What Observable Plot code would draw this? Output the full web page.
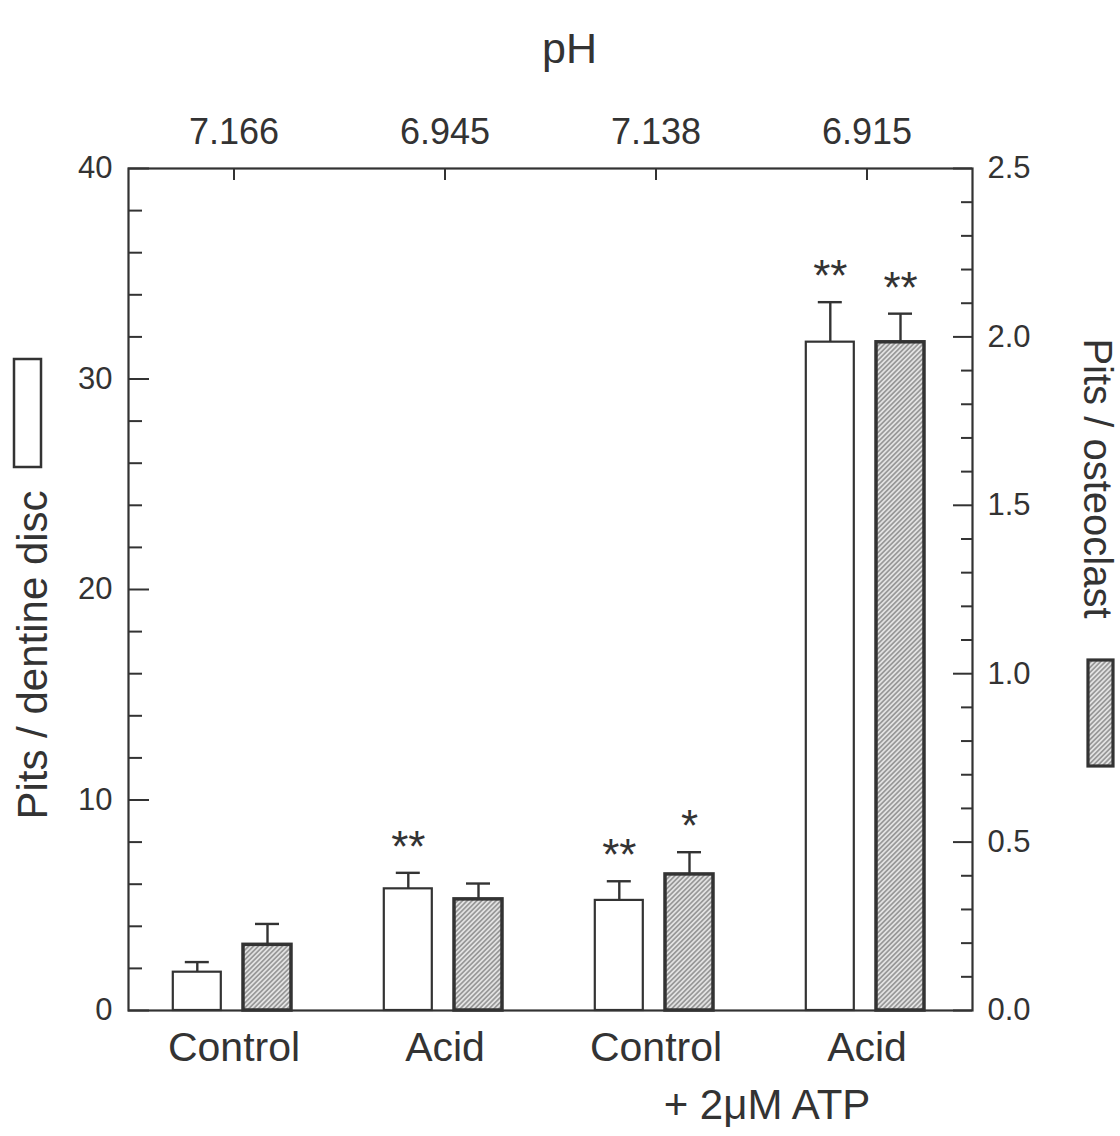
<!DOCTYPE html>
<html><head><meta charset="utf-8">
<script src="https://cdn.jsdelivr.net/npm/d3@7"></script>
<script src="https://cdn.jsdelivr.net/npm/@observablehq/plot@0.6"></script>
<style>
body{margin:0;background:#fff;}
#chart svg{display:block;}
</style></head><body><div id="chart"></div>
<script>
// ---- data ----
const groups = ["Control", "Acid", "Control + 2μM ATP", "Acid + 2μM ATP"];
const groupLabels = ["Control", "Acid", "Control", "Acid"];
const pHValues = ["7.166", "6.945", "7.138", "6.915"];
const pitsPerDisc = [1.82, 5.78, 5.23, 31.75];
const pitsPerDiscSEM = [0.48, 0.76, 0.91, 1.90];
const pitsPerOsteoclast = [0.195, 0.33, 0.404, 1.984];
const pitsPerOsteoclastSEM = [0.062, 0.047, 0.066, 0.085];
const sigDisc = ["", "**", "**", "**"];
const sigOsteoclast = ["", "", "*", "**"];
const leftMajor = [0, 10, 20, 30, 40];
const leftMinor = [2, 4, 6, 8, 12, 14, 16, 18, 22, 24, 26, 28, 32, 34, 36, 38];
const rightMajor = [0, 0.5, 1.0, 1.5, 2.0, 2.5];
const rightMinor = [0.1, 0.2, 0.3, 0.4, 0.6, 0.7, 0.8, 0.9, 1.1, 1.2, 1.3, 1.4, 1.6, 1.7, 1.8, 1.9, 2.1, 2.2, 2.3, 2.4];
const titleTop = "pH";
const titleLeft = "Pits / dentine disc";
const titleRight = "Pits / osteoclast";
const noteATP = "+ 2μM ATP";

// ---- layout ----
const W = 1120, H = 1136, mL = 128, mR = 148, mT = 168, mB = 126;
const plotW = W - mL - mR, plotH = H - mT - mB;
const band = plotW / groups.length;
const k = 40 / 2.5; // left units per right unit
const ink = "#333";

const white = groups.map((g, i) => ({group: g, value: pitsPerDisc[i], top: pitsPerDisc[i] + pitsPerDiscSEM[i], sig: sigDisc[i]}));
const hatched = groups.map((g, i) => ({group: g, value: pitsPerOsteoclast[i] * k, top: (pitsPerOsteoclast[i] + pitsPerOsteoclastSEM[i]) * k, sig: sigOsteoclast[i]}));

const whiteOff = -36.7, hatchOff = 33.5, barW = 48, capW = 24;
const inL = (off, w) => band / 2 + off - w / 2;
const inR = (off, w) => band / 2 - off - w / 2;

const svg = Plot.plot({
  width: W, height: H,
  marginLeft: mL, marginRight: mR, marginTop: mT, marginBottom: mB,
  style: {fontFamily: "'Liberation Sans', Arial, Helvetica, sans-serif", color: ink, background: "#fff"},
  x: {type: "band", domain: groups, padding: 0, axis: null},
  y: {domain: [0, 40], axis: null},
  marks: [
    Plot.barY(white, {x: "group", y: "value", fill: "#fff", stroke: ink, strokeWidth: 2.2,
      insetLeft: inL(whiteOff, barW), insetRight: inR(whiteOff, barW)}),
    Plot.barY(hatched, {x: "group", y: "value", fill: "url(#hatch)", stroke: ink, strokeWidth: 3.5,
      insetLeft: inL(hatchOff, barW), insetRight: inR(hatchOff, barW)}),
    Plot.ruleX(white, {x: "group", y1: "value", y2: "top", dx: whiteOff, stroke: ink, strokeWidth: 2.4}),
    Plot.ruleX(hatched, {x: "group", y1: "value", y2: "top", dx: hatchOff, stroke: ink, strokeWidth: 2.4}),
    Plot.tickY(white, {x: "group", y: "top", stroke: ink, strokeWidth: 2.4,
      insetLeft: inL(whiteOff, capW), insetRight: inR(whiteOff, capW)}),
    Plot.tickY(hatched, {x: "group", y: "top", stroke: ink, strokeWidth: 2.4,
      insetLeft: inL(hatchOff, capW), insetRight: inR(hatchOff, capW)}),
    Plot.text(white.filter(d => d.sig), {x: "group", y: "top", text: "sig", dx: whiteOff, dy: -11,
      lineAnchor: "bottom", fontSize: 44}),
    Plot.text(hatched.filter(d => d.sig), {x: "group", y: "top", text: "sig", dx: hatchOff, dy: -11,
      lineAnchor: "bottom", fontSize: 44}),
    // inward ticks
    Plot.tickY(leftMajor, {y: d => d, stroke: ink, strokeWidth: 2, insetRight: plotW - 21}),
    Plot.tickY(leftMinor, {y: d => d, stroke: ink, strokeWidth: 2, insetRight: plotW - 14}),
    Plot.tickY(rightMajor, {y: d => d * k, stroke: ink, strokeWidth: 2, insetLeft: plotW - 19}),
    Plot.tickY(rightMinor, {y: d => d * k, stroke: ink, strokeWidth: 2, insetLeft: plotW - 11}),
    Plot.tickX(groups, {x: d => d, stroke: ink, strokeWidth: 2, insetBottom: plotH - 12}),
    Plot.frame({stroke: ink, strokeWidth: 2.2}),
    // axis labels
    Plot.axisY({anchor: "left", ticks: leftMajor, tickSize: 0, tickPadding: 16, fontSize: 31, label: null}),
    Plot.axisY({anchor: "right", ticks: rightMajor.map(v => v * k), tickFormat: d => (d / k).toFixed(1),
      tickSize: 0, tickPadding: 15, fontSize: 31, label: null}),
    Plot.axisX({anchor: "bottom", tickSize: 0, tickPadding: 21, fontSize: 41, label: null,
      tickFormat: d => groupLabels[groups.indexOf(d)]}),
    Plot.axisX({anchor: "top", tickSize: 0, tickPadding: 25, fontSize: 36, label: null,
      tickFormat: d => pHValues[groups.indexOf(d)]}),
    // titles
    Plot.text([titleTop], {text: d => d, frameAnchor: "top", textAnchor: "middle", dx: 19, dy: -106, lineAnchor: "bottom", fontSize: 43}),
    Plot.text([titleLeft], {text: d => d, frameAnchor: "left", textAnchor: "middle", rotate: -90, dx: -82, dy: 65.5, lineAnchor: "bottom", fontSize: 42}),
    Plot.text([titleRight], {text: d => d, frameAnchor: "right", textAnchor: "middle", rotate: 90, dx: 111, dy: -111, lineAnchor: "bottom", fontSize: 40}),
    Plot.text([noteATP], {text: d => d, frameAnchor: "bottom", textAnchor: "middle", dx: 216.5, dy: 108, lineAnchor: "bottom", fontSize: 42})
  ]
});

// hatch pattern and legend swatches
const s = d3.select(svg);
const defs = s.insert("defs", ":first-child");
const p = defs.append("pattern").attr("id", "hatch").attr("patternUnits", "userSpaceOnUse")
  .attr("width", 3.4).attr("height", 3.4).attr("patternTransform", "rotate(45)");
p.append("rect").attr("width", 3.4).attr("height", 3.4).attr("fill", "#e2e2e2");
p.append("line").attr("x1", 1.7).attr("y1", 0).attr("x2", 1.7).attr("y2", 3.4).attr("stroke", "#666").attr("stroke-width", 1.0);

const lg = s.append("g").attr("stroke", ink);
lg.append("rect").attr("x", 14).attr("y", 359).attr("width", 27).attr("height", 108)
  .attr("fill", "#fff").attr("stroke-width", 2.5);
lg.append("rect").attr("x", 1088).attr("y", 660).attr("width", 25).attr("height", 106)
  .attr("fill", "url(#hatch)").attr("stroke-width", 3.2);

document.getElementById("chart").appendChild(svg);
</script></body></html>
